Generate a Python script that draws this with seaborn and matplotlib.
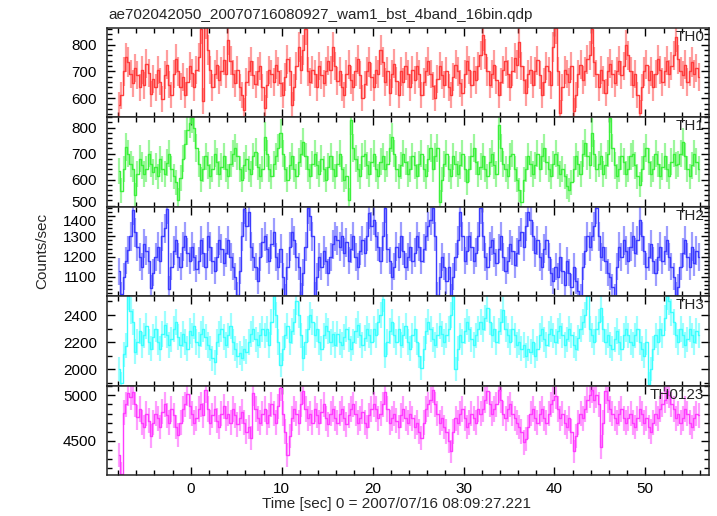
import numpy as np
import pandas as pd
import matplotlib
matplotlib.use("Agg")
import matplotlib.pyplot as plt
import matplotlib.transforms as mtransforms
import seaborn as sb
from matplotlib.ticker import MultipleLocator

# bins de 0.25 s, el primero centrado en -7.875 s
bin_size = 0.25
t_first = -7.875

# tasas (counts/sec), 16 bins por fila = 4 s
th0 = [575, 610, 700, 752, 735, 690, 655, 712, 688, 640, 705, 648, 728, 695, 615, 672,
       640, 705, 662, 598, 688, 725, 650, 612, 690, 748, 700, 642, 680, 612, 660, 720,
       695, 640, 705, 752, 860, 590, 880, 780, 705, 640, 690, 725, 668, 700, 742, 690,
       818, 740, 690, 655, 705, 640, 612, 555, 660, 700, 738, 685, 652, 700, 720, 640,
       565, 650, 705, 690, 660, 725, 700, 655, 612, 680, 745, 700, 575, 640, 720, 790,
       705, 780, 858, 700, 660, 705, 690, 640, 720, 688, 655, 700, 740, 705, 790, 720,
       665, 700, 640, 612, 690, 725, 668, 640, 700, 745, 688, 600, 652, 700, 735, 680,
       640, 705, 690, 780, 735, 660, 700, 620, 690, 728, 665, 612, 700, 660, 720, 690,
       640, 705, 668, 720, 690, 612, 660, 700, 738, 690, 645, 600, 672, 720, 688, 650,
       700, 640, 612, 680, 725, 700, 655, 620, 690, 740, 705, 650, 700, 668, 720, 760,
       835, 765, 700, 650, 690, 725, 668, 612, 660, 705, 738, 690, 640, 700, 750, 725,
       808, 720, 668, 620, 690, 705, 650, 700, 742, 688, 612, 660, 720, 700, 648, 790,
       862, 700, 545, 640, 705, 690, 660, 720, 552, 612, 690, 725, 668, 700, 745, 760,
       860, 735, 690, 640, 705, 668, 620, 700, 728, 690, 655, 700, 740, 688, 720, 798,
       760, 700, 650, 690, 612, 545, 640, 700, 725, 668, 700, 640, 690, 745, 705, 660,
       700, 740, 690, 720, 760, 828, 745, 700, 688, 725, 660, 700, 735, 690, 712, 680]

th1 = [632, 557, 640, 725, 700, 660, 640, 540, 620, 680, 655, 620, 640, 700, 660, 630,
       650, 612, 678, 640, 622, 665, 700, 640, 612, 590, 522, 605, 680, 735, 790, 818,
       835, 800, 720, 660, 600, 640, 690, 655, 612, 640, 700, 668, 620, 650, 690, 640,
       612, 660, 700, 722, 690, 640, 600, 655, 680, 640, 620, 690, 705, 650, 612, 640,
       765, 700, 640, 612, 660, 690, 720, 778, 700, 640, 600, 655, 690, 640, 612, 668,
       700, 745, 690, 640, 612, 660, 700, 655, 620, 680, 640, 600, 650, 690, 640, 612,
       660, 700, 640, 600, 612, 522, 830, 720, 680, 640, 612, 690, 700, 655, 620, 668,
       700, 640, 612, 668, 690, 640, 660, 720, 762, 700, 640, 612, 655, 700, 668, 620,
       640, 690, 655, 612, 660, 700, 640, 612, 680, 720, 640, 690, 720, 515, 600, 660,
       700, 640, 612, 690, 660, 620, 655, 700, 640, 590, 640, 690, 720, 668, 620, 650,
       690, 640, 612, 668, 700, 655, 620, 810, 720, 660, 640, 612, 690, 700, 640, 600,
       560, 515, 600, 640, 690, 660, 620, 655, 700, 640, 690, 720, 668, 640, 612, 660,
       700, 655, 620, 640, 612, 575, 560, 590, 640, 690, 660, 620, 700, 740, 690, 655,
       780, 700, 640, 660, 690, 620, 655, 700, 837, 720, 655, 612, 640, 690, 668, 620,
       640, 690, 700, 655, 612, 580, 640, 690, 720, 668, 620, 640, 700, 660, 612, 650,
       690, 640, 612, 668, 700, 655, 660, 700, 745, 690, 640, 612, 655, 700, 668, 640]

th2 = [1126, 1012, 1100, 1180, 1232, 1300, 1430, 1320, 1250, 1200, 1150, 1264, 1230, 1180, 1045, 1120,
       1200, 1250, 1180, 1300, 1340, 1438, 1037, 1150, 1230, 1280, 1200, 1150, 1250, 1300, 1220, 1180,
       1250, 1200, 1140, 1180, 1280, 1220, 1150, 1300, 1250, 1180, 1130, 1200, 1280, 1240, 1170, 1220,
       1280, 1200, 1150, 1100, 1011, 1130, 1300, 1438, 1350, 1420, 1250, 1200, 1150, 1080, 1200, 1270,
       1300, 1240, 1180, 1260, 1320, 1200, 1150, 1240, 1100, 1003, 1150, 1250, 1320, 1280, 1200, 1150,
       1005, 1120, 1250, 1440, 1400, 1300, 1010, 1100, 1200, 1150, 1230, 1180, 1120, 1200, 1260, 1300,
       1280, 1250, 1300, 1220, 1270, 1180, 1240, 1300, 1200, 1150, 1230, 1280, 1220, 1300, 1414, 1350,
       1380, 1300, 1250, 1180, 1300, 1442, 1240, 1180, 1100, 1150, 1250, 1200, 1300, 1230, 1150, 1200,
       1250, 1180, 1220, 1300, 1250, 1180, 1240, 1300, 1350, 1380, 1440, 1300, 1010, 1100, 1200, 1150,
       1080, 1150, 1002, 1100, 1200, 1280, 1420, 1300, 1180, 1230, 1300, 1250, 1180, 1220, 1300, 1440,
       1300, 1200, 1150, 1250, 1280, 1220, 1170, 1240, 1300, 1200, 1130, 1180, 1260, 1230, 1160, 1220,
       1280, 1320, 1250, 1350, 1420, 1380, 1300, 1220, 1280, 1200, 1150, 1240, 1280, 1200, 1120, 1080,
       1150, 1100, 1200, 1130, 1060, 1180, 1120, 1050, 1150, 1080, 1030, 1000, 1150, 1230, 1300, 1250,
       1300, 1350, 1440, 1300, 1200, 1250, 1180, 1120, 1100, 1050, 1002, 1150, 1250, 1200, 1280, 1230,
       1180, 1250, 1300, 1220, 1280, 1380, 1300, 1230, 1150, 1200, 1260, 1180, 1120, 1200, 1250, 1180,
       1230, 1280, 1200, 1150, 1100, 1010, 1050, 1150, 1220, 1280, 1200, 1150, 1250, 1170, 1230, 1200]

th3 = [2000, 1895, 2110, 2173, 2540, 2432, 2350, 2130, 2200, 2280, 2180, 2250, 2320, 2200, 2150, 2240,
       2300, 2200, 2150, 2260, 2330, 2250, 2180, 2220, 2300, 2350, 2240, 2180, 2260, 2200, 2150, 2280,
       2250, 2320, 2200, 2180, 2260, 2300, 2240, 2180, 2150, 2080, 2050, 2200, 2260, 2300, 2240, 2180,
       2250, 2320, 2200, 2150, 2100, 2120, 2080, 2150, 2130, 2200, 2260, 2300, 2220, 2180, 2250, 2300,
       2250, 2300, 2180, 2350, 2540, 2400, 2200, 2030, 2150, 2250, 2320, 2200, 2280, 2350, 2500, 2400,
       2250, 2080, 2200, 2300, 2400, 2350, 2250, 2300, 2200, 2150, 2250, 2320, 2280, 2200, 2260, 2180,
       2260, 2200, 2180, 2240, 2300, 2220, 2150, 2200, 2280, 2330, 2250, 2180, 2230, 2300, 2250, 2200,
       2300, 2250, 2350, 2400, 2520, 2100, 2200, 2280, 2350, 2250, 2200, 2300, 2180, 2250, 2320, 2200,
       2150, 2250, 2300, 2200, 2100, 2010, 2150, 2280, 2350, 2300, 2220, 2180, 2250, 2320, 2260, 2200,
       2250, 2300, 2400, 2540, 2000, 2150, 2250, 2200, 2280, 2350, 2300, 2220, 2180, 2250, 2300, 2350,
       2300, 2380, 2450, 2350, 2250, 2300, 2200, 2280, 2350, 2440, 2300, 2250, 2200, 2300, 2250, 2180,
       2200, 2150, 2180, 2100, 2150, 2130, 2200, 2100, 2150, 2250, 2300, 2220, 2180, 2260, 2300, 2250,
       2200, 2280, 2320, 2250, 2180, 2220, 2300, 2250, 2180, 2150, 2230, 2300, 2350, 2400, 2540, 2300,
       2250, 2200, 2300, 2350, 2450, 2300, 2200, 2250, 2180, 2150, 2220, 2280, 2200, 2150, 2250, 2300,
       2250, 2200, 2180, 2250, 2300, 2200, 2150, 2100, 2200, 1890, 2000, 2150, 2250, 2200, 2300, 2250,
       2380, 2540, 2500, 2420, 2350, 2250, 2200, 2300, 2250, 2180, 2220, 2300, 2250, 2200, 2280, 2250]

th0123 = [4345, 4130, 4810, 4900, 5030, 4980, 5040, 4900, 4760, 4850, 4700, 4650, 4800, 4720, 4550, 4700,
          4800, 4750, 4650, 4820, 4900, 4780, 4700, 4850, 4780, 4650, 4560, 4700, 4850, 4900, 5020, 4880,
          4800, 4700, 4750, 4850, 4900, 4780, 5060, 4850, 4700, 4780, 4850, 4720, 4650, 4800, 4880, 4750,
          4800, 4700, 4850, 4780, 4680, 4750, 4820, 4700, 4600, 4650, 4530, 5030, 4850, 4750, 4700, 4800,
          4850, 4700, 4780, 4900, 4800, 4700, 4880, 5080, 4800, 4600, 4340, 4550, 4750, 4850, 4800, 4700,
          4900, 5050, 4850, 4750, 4800, 4700, 4850, 4780, 4700, 4820, 4900, 4750, 4680, 4800, 4850, 4750,
          4700, 4800, 4850, 4750, 4680, 4780, 4850, 4900, 4800, 4700, 4750, 4820, 4700, 4650, 4780, 4850,
          4900, 4850, 4750, 4800, 4900, 5040, 4850, 4700, 4750, 4800, 4720, 4650, 4780, 4850, 4750, 4700,
          4800, 4750, 4650, 4700, 4600, 4530, 4700, 4850, 4900, 4950, 5060, 4900, 4800, 4700, 4750, 4650,
          4600, 4500, 4380, 4600, 4750, 4700, 4800, 4850, 4750, 4650, 4700, 4800, 4750, 4700, 4850, 4800,
          4850, 4950, 5050, 4900, 4800, 4850, 4900, 5060, 4950, 4800, 4750, 4850, 4900, 4800, 4750, 4700,
          4650, 4600, 4480, 4520, 4650, 4800, 4850, 4750, 4700, 4800, 4850, 4750, 4700, 4800, 4900, 4950,
          4990, 4850, 4750, 4800, 4700, 4650, 4750, 4600, 4380, 4550, 4700, 4800, 4750, 4850, 4950, 5000,
          5060, 4950, 5000, 4900, 4430, 4700, 5050, 4950, 4850, 4800, 4750, 4700, 4800, 4850, 4750, 4700,
          4750, 4800, 4700, 4650, 4750, 4850, 4800, 4700, 4750, 4650, 4600, 4700, 4800, 4750, 4850, 4900,
          4950, 5050, 5000, 4900, 4850, 4750, 4800, 4700, 4750, 4850, 4800, 4700, 4650, 4750, 4800, 4780]

bandas = ["TH0", "TH1", "TH2", "TH3", "TH0123"]
series = [th0, th1, th2, th3, th0123]
colores = ["#ff3c3c", "#3cf03c", "#3c3cff", "#3cffff", "#ff3cff"]
y_lims = [(529, 863), (496, 840), (1004, 1448), (1880, 2540), (4120, 5110)]
y_major = [100, 100, 100, 200, 500]
y_minor = [20, 20, 20, 100, 100]

titulo = "ae702042050_20070716080927_wam1_bst_4band_16bin.qdp"
x_label = "Time [sec] 0 = 2007/07/16 08:09:27.221"

sb.set_style("ticks")
plt.rcParams["font.family"] = ["Liberation Sans", "DejaVu Sans"]
plt.rcParams["font.size"] = 11

fig, axes = plt.subplots(5, 1, sharex=True, figsize=(7.17, 5.16), dpi=100)
plt.subplots_adjust(left=0.1488, right=0.9888, top=0.9463, bottom=0.0795, hspace=0)

for ax, banda, datos, color, ylim, ymaj, ymin in zip(axes, bandas, series, colores,
                                                    y_lims, y_major, y_minor):
    tasa = np.array(datos, dtype=float)
    tiempo = t_first + bin_size * np.arange(len(tasa))
    # error poissoniano de cada bin
    error = np.sqrt(tasa / bin_size)
    df = pd.DataFrame({"time": tiempo, "rate": tasa, "err": error})

    ax.errorbar(df["time"], df["rate"], yerr=df["err"], fmt="none",
                ecolor=color, elinewidth=1.6, alpha=0.5, capsize=0)
    sb.lineplot(data=df, x="time", y="rate", ax=ax, color=color, lw=1.0,
                drawstyle="steps-mid", estimator=None)

    ax.set_ylim(*ylim)
    ax.yaxis.set_major_locator(MultipleLocator(ymaj))
    ax.yaxis.set_minor_locator(MultipleLocator(ymin))
    ax.set_xlabel("")
    ax.set_ylabel("")
    ax.text(0.992, 0.975, banda, transform=ax.transAxes, ha="right", va="top",
            fontsize=11)
    for s in ax.spines.values():
        s.set_linewidth(1.1)
    ax.tick_params(which="both", direction="in", top=True, right=True,
                   colors="black", width=1.0, pad=7)
    ax.tick_params(which="major", length=6)
    ax.tick_params(which="minor", length=3.5)

axes[-1].set_xlim(-9.25, 57.0)
axes[-1].xaxis.set_major_locator(MultipleLocator(10))
axes[-1].xaxis.set_minor_locator(MultipleLocator(2))
axes[-1].tick_params(axis="x", pad=5)

fig.text(108 / 717, 1 - 15 / 516, titulo, ha="left", va="center", fontsize=11)
fig.text(396 / 717, 1 - 504 / 516, x_label, ha="center", va="center", fontsize=11)
fig.text(42 / 717, 1 - 251 / 516, "Counts/sec", rotation=90, ha="center",
         va="center", fontsize=11)

# separar un poco las etiquetas 500 (TH1) y 1400 (TH2) que se pisan
fig.canvas.draw()
for ax, texto, dy in [(axes[1], "500", 4), (axes[2], "1400", -4)]:
    for lbl in ax.get_yticklabels():
        if lbl.get_text() == texto:
            desp = mtransforms.ScaledTranslation(0, dy / 100, fig.dpi_scale_trans)
            lbl.set_transform(lbl.get_transform() + desp)

fig.savefig("out.png", dpi=100)
